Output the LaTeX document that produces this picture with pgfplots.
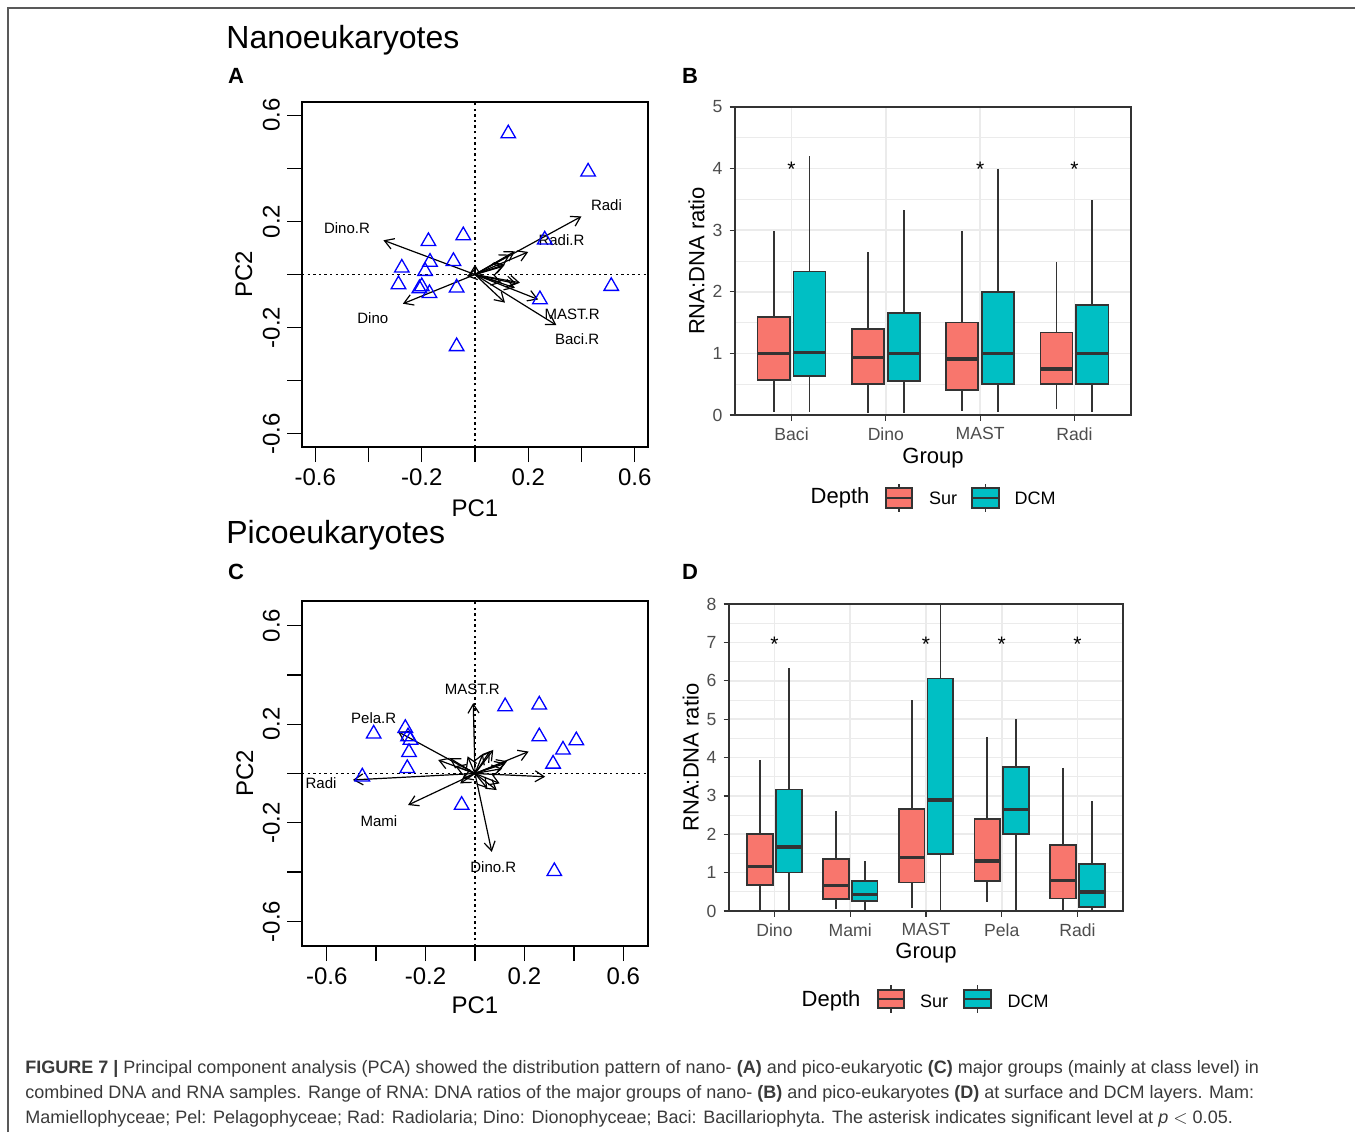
\documentclass[border=0pt]{standalone}
\usepackage{fontspec}
\setmainfont{Liberation Sans}
\usepackage{pgfplots}
\pgfplotsset{compat=1.18}
\usepgfplotslibrary{statistics}
\usetikzlibrary{arrows.meta}
\definecolor{sur}{HTML}{F8766D}
\definecolor{dcm}{HTML}{00BFC4}
\definecolor{grey20}{HTML}{333333}
\definecolor{grey30}{HTML}{4D4D4D}
\definecolor{grey92}{HTML}{EBEBEB}
\definecolor{captxt}{HTML}{3A3A3A}

% one prepared box: colour, position, lw, q1, med, q3, uw
\newcommand{\bx}[7]{\addplot[fill=#1, draw=grey20, line width=0.85pt,
  boxplot prepared={draw direction=y, draw position=#2, lower whisker=#3, lower quartile=#4,
  median=#5, upper quartile=#6, upper whisker=#7, box extend=0.34, whisker extend=0}]
  coordinates {};}

\tikzset{
  vlab/.style={font=\fontsize{7.5}{9}\selectfont},
  star/.style={font=\fontsize{10.5}{10}\selectfont, anchor=center, yshift=-2pt},
}
\pgfplotsset{
  pca/.style={scale only axis, width=173pt, height=172.5pt,
    axis line style={black, line width=0.65pt},
    tick align=outside, major tick length=7.5pt,
    xtick pos=left, ytick pos=left,
    tick style={black, line width=0.65pt},
    xtick={-0.6,-0.4,-0.2,0,0.2,0.4,0.6},
    ytick={-0.6,-0.4,-0.2,0,0.2,0.4,0.6},
    xticklabels={-0.6,,-0.2,,0.2,,0.6},
    yticklabels={-0.6,,-0.2,,0.2,,0.6},
    ticklabel style={font=\fontsize{12}{14}\selectfont},
    yticklabel style={rotate=90, anchor=south},
    label style={font=\fontsize{12}{14}\selectfont},
  },
  dotax/.style={black, line width=0.7pt, dash pattern=on 1.2pt off 1.6pt},
  tri/.style={only marks, mark=triangle, mark size=4.2pt, blue,
    mark options={line width=0.65pt}},
  arr/.style={black, line width=0.6pt, -{Straight Barb[length=4.5pt,width=5.5pt]},
    quiver={u=\thisrow{u}, v=\thisrow{v}}},
  gg/.style={scale only axis,
    axis line style={grey20, line width=0.8pt},
    tick align=outside, major tick length=2.75pt, minor tick length=0pt,
    tick style={grey20, line width=0.6pt},
    xtick pos=left, ytick pos=left,
    ticklabel style={grey30, font=\fontsize{8.8}{10}\selectfont},
    xmajorgrids, ymajorgrids, yminorgrids,
    major grid style={grey92, line width=0.8pt},
    minor grid style={grey92, line width=0.4pt},
    label style={font=\fontsize{11}{13}\selectfont},
    boxplot/every median/.style={line width=1.7pt},
    boxplot/every whisker/.style={line width=0.9pt},
  },
}

\begin{document}
\begin{tikzpicture}
\useasboundingbox (0pt,0pt) rectangle (677.5pt,-566pt);
\draw[gray!70!black, line width=0.6pt] (4pt,-566pt) -- (4pt,-4pt) -- (677.5pt,-4pt);

\node[anchor=west, inner sep=0pt, font=\fontsize{16}{18}\selectfont] at (113pt,-20pt) {Nanoeukaryotes};
\node[anchor=west, inner sep=0pt, font=\fontsize{16}{18}\selectfont] at (113pt,-267.5pt) {Picoeukaryotes};
\node[font=\bfseries\fontsize{11}{12}\selectfont] at (118pt,-38pt) {A};
\node[font=\bfseries\fontsize{11}{12}\selectfont] at (345pt,-38pt) {B};
\node[font=\bfseries\fontsize{11}{12}\selectfont] at (118pt,-286pt) {C};
\node[font=\bfseries\fontsize{11}{12}\selectfont] at (345pt,-286pt) {D};

% ---------------- A: PCA nano
\begin{axis}[pca, at={(151pt,-223.5pt)}, anchor=south west,
  xmin=-0.65, xmax=0.65, ymin=-0.65, ymax=0.65,
  xlabel={PC1}, ylabel={PC2},
  xlabel style={at={(axis description cs:0.5,-0.177)}, anchor=center},
  ylabel style={at={(axis description cs:-0.168,0.5)}, anchor=center}]
\addplot[dotax] coordinates {(0,-0.65) (0,0.65)};
\addplot[dotax] coordinates {(-0.65,0) (0.65,0)};
\addplot[arr] table {
x y u v
0 0 -0.344 0.129
0 0 -0.271 -0.110
0 0 0.400 0.219
0 0 0.306 -0.191
0 0 0.2375 -0.094
0 0 0.200 0.085
0 0 0.150 0.0875
0 0 0.131 0.075
0 0 0.1125 0.0375
0 0 0.106 0.031
0 0 0.169 -0.031
0 0 0.156 -0.035
0 0 0.100 -0.031
0 0 0.150 -0.050
0 0 0.1125 -0.106
0 0 -0.031 -0.006
0 0 0.000 0.037
};
\addplot[tri] coordinates {
(0.125,0.531) (0.425,0.387) (0.262,0.131) (0.512,-0.044) (0.244,-0.094)
(-0.044,0.147) (-0.175,0.125) (-0.081,0.050) (-0.169,0.047) (-0.275,0.025)
(-0.1875,0.0125) (-0.2875,-0.0375) (-0.209,-0.0525) (-0.171,-0.071)
(-0.069,-0.050) (-0.069,-0.271) (-0.20,-0.045)
};
\node[vlab] at (axis cs:-0.481,0.175) {Dino.R};
\node[vlab] at (axis cs:-0.384,-0.1625) {Dino};
\node[vlab] at (axis cs:0.494,0.2625) {Radi};
\node[vlab] at (axis cs:0.325,0.131) {Radi.R};
\node[vlab] at (axis cs:0.365,-0.150) {MAST.R};
\node[vlab] at (axis cs:0.384,-0.244) {Baci.R};
\end{axis}

% ---------------- C: PCA pico
\begin{axis}[pca, at={(151pt,-473pt)}, anchor=south west,
  xmin=-0.7, xmax=0.7, ymin=-0.7, ymax=0.7,
  xlabel={PC1}, ylabel={PC2},
  xlabel style={at={(axis description cs:0.5,-0.171)}, anchor=center},
  ylabel style={at={(axis description cs:-0.165,0.5)}, anchor=center}]
\addplot[dotax] coordinates {(0,-0.7) (0,0.7)};
\addplot[dotax] coordinates {(-0.7,0) (0.7,0)};
\addplot[arr] table {
x y u v
0 0 -0.007 0.286
0 0 -0.312 0.170
0 0 -0.494 -0.026
0 0 -0.271 -0.128
0 0 0.068 -0.318
0 0 0.284 -0.013
0 0 0.217 0.089
0 0 -0.149 0.055
0 0 -0.102 0.062
0 0 0.122 0.041
0 0 0.088 -0.067
0 0 0.074 0.096
0 0 0.032 0.080
0 0 0.110 0.020
0 0 -0.060 -0.040
0 0 0.050 -0.060
0 0 -0.030 0.070
0 0 0.100 -0.040
0 0 0.130 0.050
0 0 -0.080 0.030
0 0 0.060 0.090
0 0 -0.050 -0.020
};
\addplot[tri] coordinates {
(0.122,0.272) (0.260,0.279) (0.260,0.150) (0.410,0.134) (0.356,0.096)
(0.316,0.039) (0.321,-0.397) (-0.054,-0.128) (-0.410,0.161) (-0.282,0.184)
(-0.271,0.150) (-0.261,0.136) (-0.267,0.086) (-0.274,0.021) (-0.456,-0.013)
};
\node[vlab] at (axis cs:-0.011,0.340) {MAST.R};
\node[vlab] at (axis cs:-0.410,0.225) {Pela.R};
\node[vlab] at (axis cs:-0.623,-0.040) {Radi};
\node[vlab] at (axis cs:-0.389,-0.192) {Mami};
\node[vlab] at (axis cs:0.074,-0.379) {Dino.R};
\end{axis}

% ---------------- B: boxplots nano
\begin{axis}[gg, at={(367.5pt,-207.5pt)}, anchor=south west,
  width=198pt, height=154pt,
  xmin=0.4, xmax=4.6, ymin=0, ymax=5,
  xtick={1,2,3,4}, xticklabels={Baci,Dino,MAST,Radi},
  ytick={0,1,2,3,4,5}, yticklabels={0,1,2,3,4,5},
  minor ytick={0.5,1.5,2.5,3.5,4.5},
  xlabel={Group}, ylabel={RNA:DNA ratio},
  xlabel style={at={(axis description cs:0.5,-0.14)}, anchor=center},
  ylabel style={at={(axis description cs:-0.097,0.5)}, anchor=center}]
\bx{sur}{0.81}{0.05}{0.57}{1.00}{1.59}{2.99}
\bx{dcm}{1.19}{0.05}{0.63}{1.01}{2.33}{4.20}
\bx{sur}{1.81}{0.03}{0.50}{0.93}{1.40}{2.65}
\bx{dcm}{2.19}{0.04}{0.55}{1.00}{1.66}{3.33}
\bx{sur}{2.81}{0.07}{0.41}{0.91}{1.50}{2.99}
\bx{dcm}{3.19}{0.05}{0.50}{1.00}{2.00}{4.00}
\bx{sur}{3.81}{0.09}{0.50}{0.75}{1.34}{2.49}
\bx{dcm}{4.19}{0.05}{0.50}{1.00}{1.79}{3.49}
\node[star] at (axis cs:1,4.05) {*};
\node[star] at (axis cs:3,4.05) {*};
\node[star] at (axis cs:4,4.05) {*};
\end{axis}

% ---------------- D: boxplots pico
\begin{axis}[gg, at={(364.5pt,-455.5pt)}, anchor=south west,
  width=197pt, height=153.5pt,
  xmin=0.4, xmax=5.6, ymin=0, ymax=8,
  xtick={1,2,3,4,5}, xticklabels={Dino,Mami,MAST,Pela,Radi},
  ytick={0,1,2,3,4,5,6,7,8}, yticklabels={0,1,2,3,4,5,6,7,8},
  minor ytick={0.5,1.5,2.5,3.5,4.5,5.5,6.5,7.5},
  xlabel={Group}, ylabel={RNA:DNA ratio},
  xlabel style={at={(axis description cs:0.5,-0.137)}, anchor=center},
  ylabel style={at={(axis description cs:-0.097,0.5)}, anchor=center}]
\bx{sur}{0.81}{0.00}{0.67}{1.16}{2.00}{3.94}
\bx{dcm}{1.19}{0.00}{1.00}{1.67}{3.17}{6.33}
\bx{sur}{1.81}{0.04}{0.31}{0.66}{1.36}{2.61}
\bx{dcm}{2.19}{0.00}{0.27}{0.43}{0.79}{1.30}
\bx{sur}{2.81}{0.07}{0.74}{1.39}{2.66}{5.50}
\bx{dcm}{3.19}{0.00}{1.49}{2.89}{6.06}{8.00}
\bx{sur}{3.81}{0.24}{0.78}{1.30}{2.40}{4.54}
\bx{dcm}{4.19}{0.00}{2.00}{2.65}{3.75}{5.00}
\bx{sur}{4.81}{0.00}{0.33}{0.80}{1.72}{3.74}
\bx{dcm}{5.19}{0.00}{0.11}{0.50}{1.23}{2.87}
\node[star] at (axis cs:1,7.06) {*};
\node[star] at (axis cs:3,7.06) {*};
\node[star] at (axis cs:4,7.06) {*};
\node[star] at (axis cs:5,7.06) {*};
\end{axis}

% ---------------- legends
\begin{scope}[font=\fontsize{9}{10}\selectfont]
\node[font=\fontsize{11}{13}\selectfont] at (420pt,-249pt) {Depth};
\draw[grey20, line width=0.8pt] (449.5pt,-242pt) -- (449.5pt,-256pt);
\draw[fill=sur, draw=grey20, line width=0.8pt] (443pt,-244pt) rectangle (456pt,-254pt);
\draw[grey20, line width=1.4pt] (443pt,-249pt) -- (456pt,-249pt);
\node at (471.5pt,-249pt) {Sur};
\draw[grey20, line width=0.8pt] (492.75pt,-242pt) -- (492.75pt,-256pt);
\draw[fill=dcm, draw=grey20, line width=0.8pt] (486pt,-244pt) rectangle (499.5pt,-254pt);
\draw[grey20, line width=1.4pt] (486pt,-249pt) -- (499.5pt,-249pt);
\node at (517.5pt,-249pt) {DCM};

\node[font=\fontsize{11}{13}\selectfont] at (415.5pt,-500.5pt) {Depth};
\draw[grey20, line width=0.8pt] (445.5pt,-492.5pt) -- (445.5pt,-506.5pt);
\draw[fill=sur, draw=grey20, line width=0.8pt] (439pt,-495pt) rectangle (452pt,-504pt);
\draw[grey20, line width=1.4pt] (439pt,-499.5pt) -- (452pt,-499.5pt);
\node at (467pt,-500.5pt) {Sur};
\draw[grey20, line width=0.8pt] (488.75pt,-492.5pt) -- (488.75pt,-506.5pt);
\draw[fill=dcm, draw=grey20, line width=0.8pt] (482pt,-495pt) rectangle (495.5pt,-504pt);
\draw[grey20, line width=1.4pt] (482pt,-499.5pt) -- (495.5pt,-499.5pt);
\node at (514pt,-500.5pt) {DCM};
\end{scope}

% ---------------- caption
\begin{scope}[every node/.style={anchor=base west, inner sep=0pt, text=captxt,
    font=\fontsize{9}{10}\selectfont}]
\node at (12.5pt,-536.5pt) {\textbf{FIGURE 7 |} Principal component analysis (PCA) showed the distribution pattern of nano- \textbf{(A)} and pico-eukaryotic \textbf{(C)} major groups (mainly at class level) in};
\node at (12.5pt,-549pt) {combined DNA and RNA samples. Range of RNA: DNA ratios of the major groups of nano- \textbf{(B)} and pico-eukaryotes \textbf{(D)} at surface and DCM layers. Mam:};
\node at (12.5pt,-561.5pt) {Mamiellophyceae; Pel: Pelagophyceae; Rad: Radiolaria; Dino: Dionophyceae; Baci: Bacillariophyta. The asterisk indicates significant level at \textit{p} $<$ 0.05.};
\end{scope}
\end{tikzpicture}
\end{document}
